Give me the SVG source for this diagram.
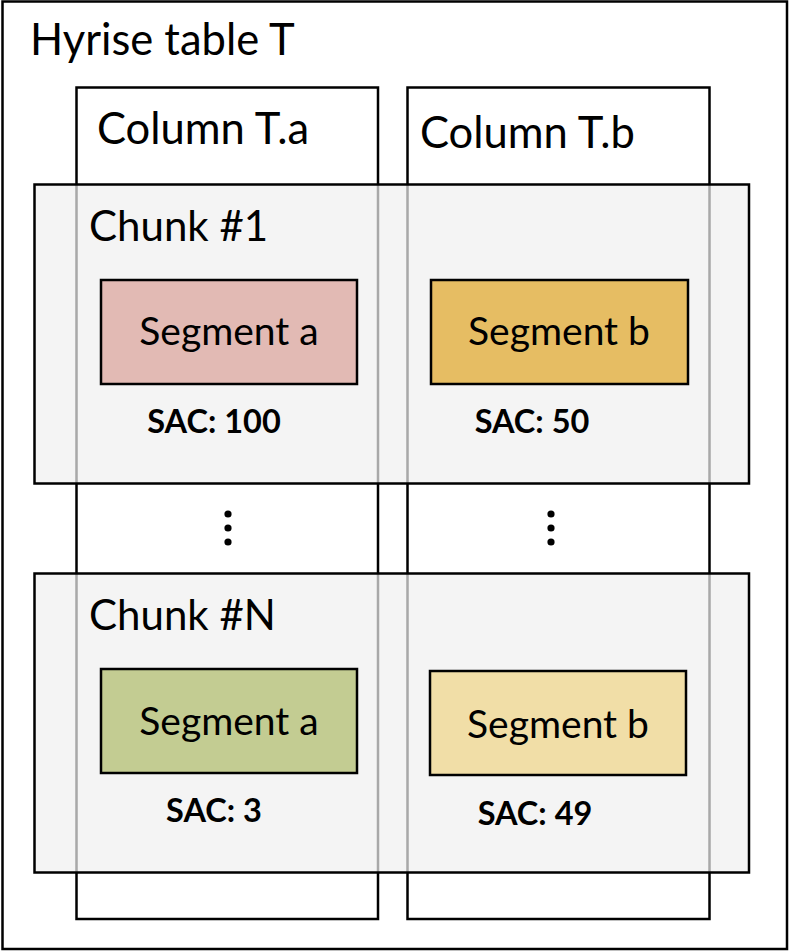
<svg xmlns="http://www.w3.org/2000/svg" width="790" height="951" viewBox="0 0 790 951">
<style>
.box{stroke:#000;stroke-width:2.5}
.lbl{font-family:Lato,"Noto Sans",sans-serif;fill:#000}
.big{font-size:43.5px}
.chk{font-size:42px}
.seg{font-size:39px}
.sac{font-size:32.5px;font-weight:bold}
.chunk{fill:#efefef;fill-opacity:0.7;stroke:#000;stroke-width:2.5}
</style>
<rect x="0" y="0" width="790" height="951" fill="#fff"/>
<g id="table">
<rect class="box" x="2.5" y="1.5" width="784.5" height="947.5" fill="#fff"/>
<text class="lbl big" x="30" y="55">Hyrise table T</text>
</g>
<g id="column-a">
<rect class="box" x="76.5" y="87.5" width="301.5" height="831.5" fill="#fff"/>
<text class="lbl big" x="97" y="144">Column T.a</text>
</g>
<g id="column-b">
<rect class="box" x="407.5" y="87.5" width="302" height="831.5" fill="#fff"/>
<text class="lbl big" x="420" y="148">Column T.b</text>
</g>
<g id="chunk-1">
<rect class="chunk" x="34.5" y="184.5" width="714.5" height="299"/>
<text class="lbl chk" x="89" y="241">Chunk #1</text>
</g>
<g id="chunk-n">
<rect class="chunk" x="34.5" y="573.5" width="714.5" height="299"/>
<text class="lbl chk" x="89" y="630">Chunk #N</text>
</g>
<g id="segment-a1">
<rect class="box" x="101" y="280" width="256" height="104" fill="#e2bab4"/>
<text class="lbl seg" x="229" y="345" text-anchor="middle">Segment a</text>
<text class="lbl sac" x="214" y="433" text-anchor="middle">SAC: 100</text>
</g>
<g id="segment-b1">
<rect class="box" x="431" y="280" width="257" height="104" fill="#e6bd63"/>
<text class="lbl seg" x="559" y="345" text-anchor="middle">Segment b</text>
<text class="lbl sac" x="532" y="433" text-anchor="middle">SAC: 50</text>
</g>
<g id="segment-an">
<rect class="box" x="101" y="669" width="256" height="104" fill="#c3cc92"/>
<text class="lbl seg" x="229" y="735" text-anchor="middle">Segment a</text>
<text class="lbl sac" x="214" y="822" text-anchor="middle">SAC: 3</text>
</g>
<g id="segment-bn">
<rect class="box" x="430" y="671" width="256" height="104" fill="#f1dea7"/>
<text class="lbl seg" x="558" y="738" text-anchor="middle">Segment b</text>
<text class="lbl sac" x="535" y="825" text-anchor="middle">SAC: 49</text>
</g>
<g id="connectors">
<g id="ellipsis-a" fill="#000">
<circle cx="228" cy="514" r="3.6"/><circle cx="228" cy="528" r="3.6"/><circle cx="228" cy="542" r="3.6"/>
</g>
<g id="ellipsis-b" fill="#000">
<circle cx="551" cy="514" r="3.6"/><circle cx="551" cy="528" r="3.6"/><circle cx="551" cy="542" r="3.6"/>
</g>
</g>
</svg>
